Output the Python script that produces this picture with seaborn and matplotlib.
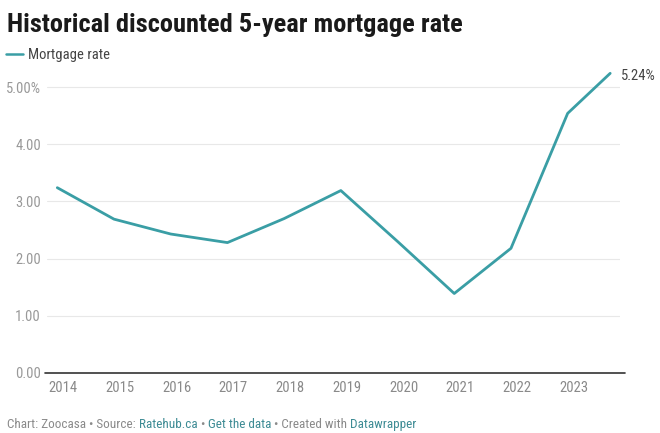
import matplotlib
matplotlib.use("Agg")
import matplotlib.pyplot as plt
import matplotlib.transforms as mtransforms
import seaborn as sns
import pandas as pd

# ── data ──────────────────────────────────────────────
years = [2014, 2015, 2016, 2017, 2018, 2019, 2020, 2021, 2022, 2023, 2023.75]
rates = [3.24, 2.69, 2.43, 2.28, 2.70, 3.19, 2.30, 1.39, 2.18, 4.54, 5.24]
year_ticks = [2014, 2015, 2016, 2017, 2018, 2019, 2020, 2021, 2022, 2023]
y_ticks = [0, 1, 2, 3, 4, 5]
y_labels = ["0.00", "1.00", "2.00", "3.00", "4.00", "5.00%"]

df = pd.DataFrame({"year": years, "rate": rates})

LINE = "#3a9ea5"
GREY = "#8a8a8a"
LINK = "#3d8b94"
FS = 10.5

sns.set_theme(style="white")
plt.rcParams["font.family"] = ["Roboto Condensed", "Liberation Sans Narrow", "Roboto", "DejaVu Sans"]

fig = plt.figure(figsize=(6.6, 4.33), dpi=100)
ax = fig.add_axes([0.0705, 0.1386, 0.8695, 0.700])

sns.lineplot(data=df, x="year", y="rate", ax=ax, color=LINE, linewidth=2,
             label="Mortgage rate")

ax.set_xlim(2013.81, 2023.93)
ax.set_ylim(0, 5.3)

# grid + baseline
for t in y_ticks[1:]:
    ax.axhline(t, color="#e8e8e8", linewidth=0.8, zorder=0)
ax.axhline(0, color="#333333", linewidth=1.2, xmin=-0.002, xmax=1.008, clip_on=False)

for s in ax.spines.values():
    s.set_visible(False)

ax.set_yticks(y_ticks)
ax.set_yticklabels(y_labels)
ax.set_xticks(year_ticks)
ax.set_xticklabels([str(y) for y in year_ticks])
ax.tick_params(axis="both", length=0, labelsize=FS, labelcolor=GREY)
ax.tick_params(axis="y", pad=4, labelcolor="#999999")
ax.tick_params(axis="x", pad=5.5)
for lab in ax.get_xticklabels():
    lab.set_transform(lab.get_transform() + mtransforms.ScaledTranslation(6 / 100, 0, fig.dpi_scale_trans))
ax.set_xlabel("")
ax.set_ylabel("")

# end label
ax.annotate(f"{rates[-1]:.2f}%", (years[-1], rates[-1]), xytext=(8, -2),
            textcoords="offset points", va="center", ha="left",
            fontsize=FS, color="#444444", annotation_clip=False)

# legend
leg = ax.legend(loc="center left", bbox_to_anchor=(0.009, 0.873), bbox_transform=fig.transFigure,
                frameon=False, handlelength=1.15, handletextpad=0.35, fontsize=FS,
                labelcolor="#444444", borderaxespad=0, borderpad=0)
for h in leg.get_lines():
    h.set_linewidth(1.8)

# title
fig.text(0.011, 0.925, "Historical discounted 5-year mortgage rate",
         fontsize=19, fontweight="bold", color="#1a1a1a", ha="left", va="baseline")

# footer
parts = [("Chart: Zoocasa • Source: ", GREY), ("Ratehub.ca", LINK), (" • ", GREY),
         ("Get the data", LINK), (" • Created with ", GREY), ("Datawrapper", LINK)]
renderer = fig.canvas.get_renderer()
x = 0.011
for txt, col in parts:
    t = fig.text(x, 0.012, txt, fontsize=9.5, color=col, ha="left", va="baseline")
    bb = t.get_window_extent(renderer=renderer)
    x += bb.width / fig.bbox.width

fig.savefig("out.png", dpi=100, facecolor="white")
